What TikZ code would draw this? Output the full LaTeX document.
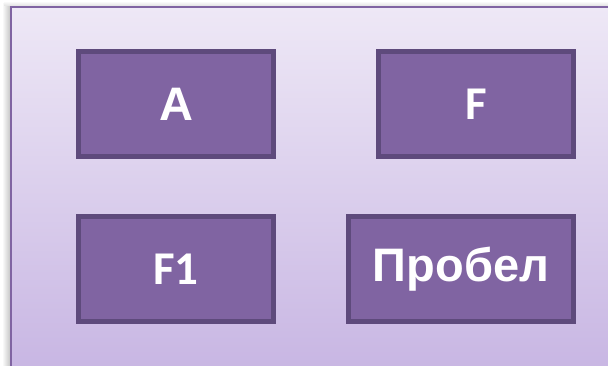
\documentclass[tikz,border=0pt]{standalone}
\usepackage{fontspec}
\usetikzlibrary{positioning}
\newfontfamily\arialbf[BoldFont={* Bold}]{Liberation Sans}
\newfontfamily\calibribf[BoldFont={* Bold}]{Carlito}
\definecolor{bgtop}{HTML}{EEE8F6}
\definecolor{bgbot}{HTML}{C8B6E3}
\definecolor{frameline}{HTML}{8064A2}
\definecolor{keyfill}{HTML}{8064A2}
\definecolor{keyline}{HTML}{5E4A7C}

\begin{document}
\begin{tikzpicture}[x=1pt, y=-1pt, node distance=55pt and 100pt,
  key/.style={draw=keyline, fill=keyfill, line width=5pt, rectangle, inner sep=0pt,
    minimum width=195pt, minimum height=105pt, text=white, font=\fontsize{47}{47}\selectfont\bfseries}]
\useasboundingbox (0,0) rectangle (608,366);
% shadow and panel
\fill[left color=white, right color=black!22] (2,4) rectangle (10,366);
\fill[top color=white, bottom color=black!12] (4,1) rectangle (608,6);
\fill[top color=bgtop, bottom color=bgbot, draw=frameline, line width=2pt] (11,7) rectangle (612,370);
% keys
\node[key] (a) at (176,104) {\arialbf A};
\node[key, right=of a] (f) {\calibribf F};
\node[key, below=of a] (f1) {\calibribf F1};
\node[key, minimum width=225pt, below=of f.south east, anchor=north east] (space) {\arialbf Пробел};
\end{tikzpicture}
\end{document}
